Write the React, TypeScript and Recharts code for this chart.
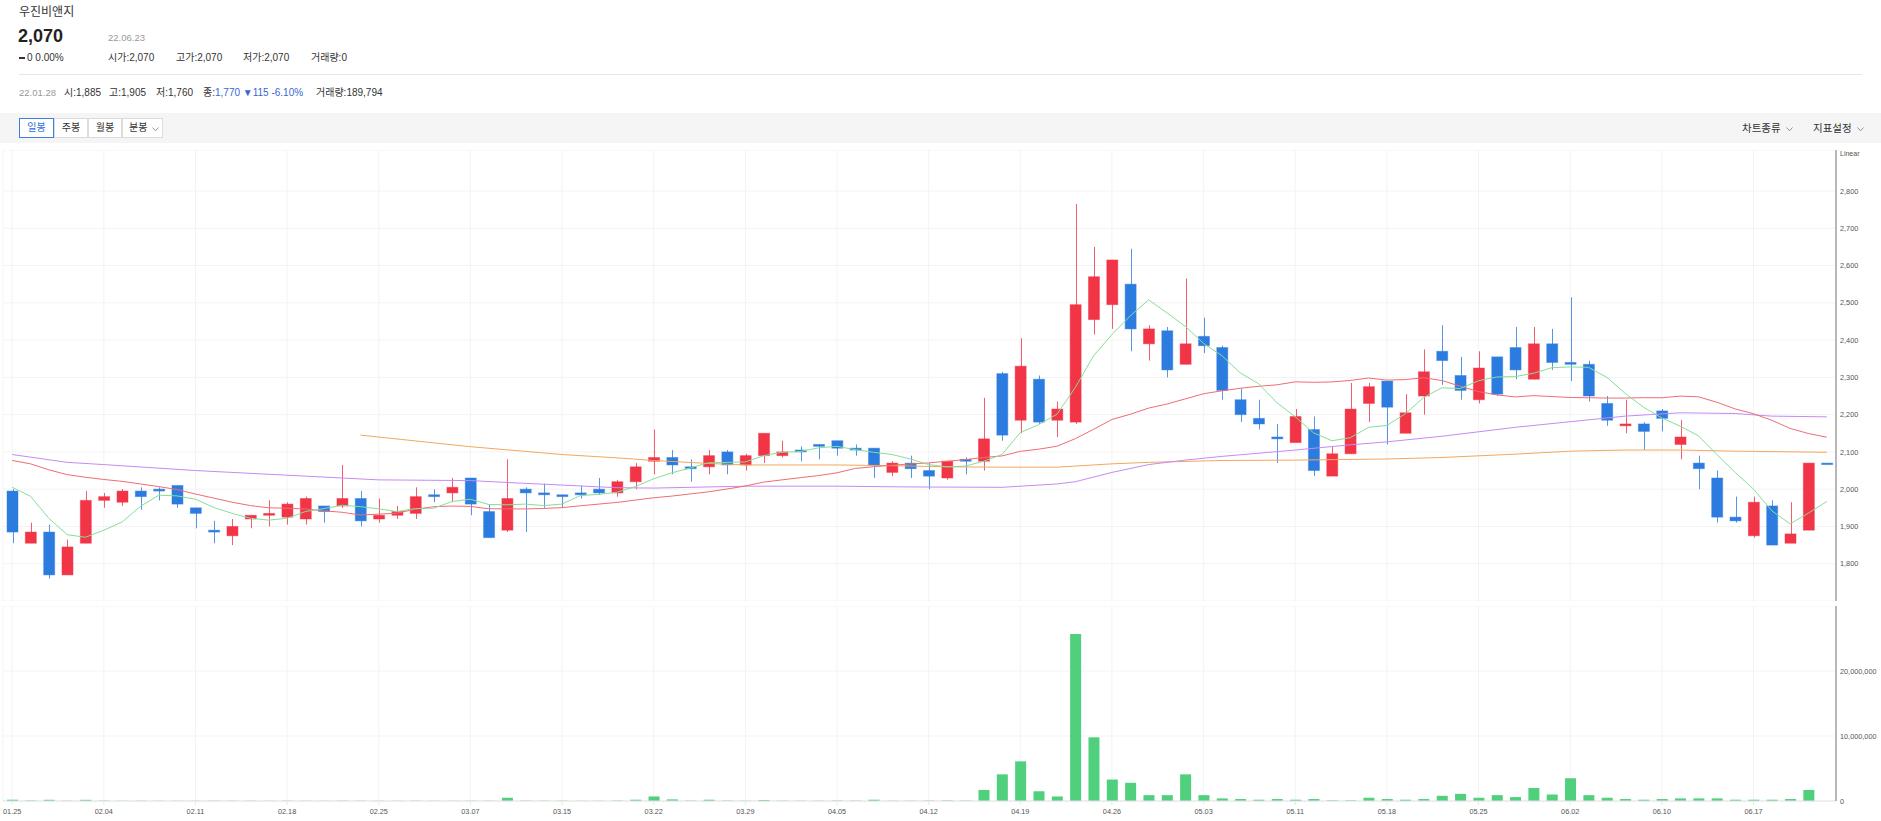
import { Bar, CartesianGrid, ComposedChart, Line, XAxis, YAxis } from "recharts";

// 일봉 — 우진비앤지, 22.01.25 ~ 22.06.23 (100 trading days)

const dates = [
  "01.25", "01.26", "01.27", "01.28", "02.03", "02.04", "02.07", "02.08", "02.09", "02.10",
  "02.11", "02.14", "02.15", "02.16", "02.17", "02.18", "02.21", "02.22", "02.23", "02.24",
  "02.25", "02.28", "03.02", "03.03", "03.04", "03.07", "03.08", "03.10", "03.11", "03.14",
  "03.15", "03.16", "03.17", "03.18", "03.21", "03.22", "03.23", "03.24", "03.25", "03.28",
  "03.29", "03.30", "03.31", "04.01", "04.04", "04.05", "04.06", "04.07", "04.08", "04.11",
  "04.12", "04.13", "04.14", "04.15", "04.18", "04.19", "04.20", "04.21", "04.22", "04.25",
  "04.26", "04.27", "04.28", "04.29", "05.02", "05.03", "05.04", "05.06", "05.09", "05.10",
  "05.11", "05.12", "05.13", "05.16", "05.17", "05.18", "05.19", "05.20", "05.23", "05.24",
  "05.25", "05.26", "05.27", "05.30", "05.31", "06.02", "06.03", "06.07", "06.08", "06.09",
  "06.10", "06.13", "06.14", "06.15", "06.16", "06.17", "06.20", "06.21", "06.22", "06.23",
];

const tickDates = [
  "01.25", "02.04", "02.11", "02.18", "02.25", "03.07", "03.15", "03.22", "03.29", "04.05",
  "04.12", "04.19", "04.26", "05.03", "05.11", "05.18", "05.25", "06.02", "06.10", "06.17",
];

const opens = [
  1995, 1855, 1885, 1770, 1855, 1970, 1965, 1995, 2000, 2010,
  1950, 1890, 1875, 1920, 1930, 1925, 1920, 1955, 1955, 1975,
  1920, 1930, 1935, 1985, 1990, 2030, 1940, 1890, 2000, 1990,
  1985, 1990, 2000, 1990, 2020, 2075, 2085, 2060, 2060, 2100,
  2065, 2090, 2090, 2105, 2120, 2130, 2110, 2110, 2045, 2070,
  2050, 2030, 2080, 2075, 2310, 2185, 2295, 2185, 2180, 2455,
  2495, 2550, 2390, 2425, 2335, 2410, 2380, 2240, 2190, 2140,
  2125, 2160, 2035, 2095, 2230, 2290, 2150, 2250, 2370, 2305,
  2240, 2355, 2380, 2295, 2390, 2340, 2335, 2230, 2170, 2175,
  2210, 2120, 2070, 2030, 1925, 1875, 1955, 1855, 1890, 2070,
];
const highs = [
  2000, 1910, 1905, 1865, 1995, 1990, 2000, 2005, 2005, 2010,
  1950, 1915, 1920, 1930, 1970, 1965, 1980, 1955, 2065, 1995,
  1975, 1955, 2005, 2000, 2030, 2030, 1960, 2080, 2005, 2015,
  1985, 2010, 2030, 2025, 2070, 2160, 2105, 2080, 2105, 2105,
  2095, 2150, 2130, 2115, 2120, 2130, 2120, 2110, 2075, 2090,
  2070, 2075, 2085, 2245, 2315, 2405, 2305, 2235, 2765, 2650,
  2615, 2645, 2440, 2435, 2565, 2460, 2385, 2270, 2240, 2175,
  2215, 2195, 2115, 2285, 2285, 2290, 2255, 2375, 2440, 2355,
  2370, 2355, 2435, 2435, 2430, 2515, 2345, 2250, 2240, 2180,
  2215, 2185, 2090, 2050, 1980, 1980, 1970, 1965, 2070, 2070,
];
const lows = [
  1855, 1855, 1760, 1770, 1855, 1950, 1955, 1945, 1970, 1950,
  1895, 1855, 1850, 1895, 1900, 1905, 1905, 1910, 1950, 1900,
  1910, 1920, 1920, 1965, 1965, 1930, 1870, 1885, 1885, 1950,
  1950, 1975, 1985, 1980, 2000, 2040, 2040, 2020, 2040, 2040,
  2050, 2070, 2085, 2075, 2080, 2090, 2090, 2030, 2035, 2030,
  2000, 2025, 2040, 2050, 2130, 2150, 2175, 2140, 2175, 2415,
  2430, 2370, 2345, 2300, 2335, 2365, 2240, 2180, 2160, 2070,
  2125, 2035, 2035, 2095, 2180, 2120, 2150, 2200, 2280, 2240,
  2230, 2250, 2295, 2295, 2320, 2290, 2235, 2170, 2150, 2105,
  2155, 2080, 2000, 1910, 1910, 1870, 1850, 1855, 1890, 2070,
];
const closes = [
  1885, 1885, 1770, 1845, 1970, 1980, 1995, 1980, 1995, 1960,
  1935, 1885, 1900, 1930, 1935, 1960, 1975, 1940, 1975, 1915,
  1930, 1940, 1980, 1980, 2005, 1960, 1870, 1975, 1990, 1985,
  1980, 1985, 1990, 2020, 2060, 2085, 2065, 2055, 2090, 2065,
  2090, 2150, 2100, 2100, 2115, 2110, 2105, 2065, 2070, 2055,
  2035, 2075, 2075, 2135, 2145, 2330, 2180, 2215, 2495, 2570,
  2615, 2430, 2430, 2320, 2390, 2385, 2265, 2200, 2175, 2135,
  2195, 2050, 2095, 2215, 2275, 2220, 2205, 2315, 2345, 2265,
  2325, 2255, 2320, 2390, 2340, 2335, 2250, 2185, 2175, 2155,
  2190, 2140, 2055, 1925, 1915, 1965, 1850, 1880, 2070, 2070,
];
const volumes = [
  200000, 60000, 190000, 40000, 180000, 50000, 30000, 40000, 30000, 30000,
  30000, 40000, 30000, 30000, 30000, 40000, 30000, 30000, 50000, 40000,
  30000, 30000, 40000, 30000, 30000, 40000, 40000, 500000, 50000, 40000,
  40000, 30000, 30000, 60000, 200000, 700000, 250000, 60000, 200000, 60000,
  40000, 150000, 50000, 40000, 40000, 60000, 50000, 200000, 40000, 40000,
  60000, 80000, 60000, 1700000, 4100000, 6100000, 1500000, 700000, 25700000, 9800000,
  3300000, 2800000, 900000, 900000, 4100000, 900000, 400000, 300000, 200000, 300000,
  200000, 300000, 100000, 100000, 500000, 300000, 200000, 300000, 800000, 1100000,
  500000, 900000, 600000, 2000000, 1000000, 3500000, 900000, 500000, 300000, 200000,
  300000, 400000, 400000, 400000, 200000, 200000, 200000, 300000, 1700000, 0,
];

// averages whose window reaches back before 01.25
const ma5Lead = [2005, 1981, 1922, 1878];
const ma20Lead = [
  2077, 2068, 2052, 2039, 2032, 2026, 2021, 2014, 2007, 1999,
  1987, 1976, 1965, 1956, 1950, 1949, 1947, 1942, 1938,
];
const ma60Days = [0, 3, 5, 10, 16, 20, 25, 27, 30, 33, 35, 40, 45, 49, 54, 57, 58, 60, 62, 64, 66, 70, 73, 75, 78, 80, 82, 85, 88, 91, 94, 96, 99];
const ma60Values = [2093, 2072, 2066, 2050, 2035, 2025, 2023, 2018, 2011, 2004, 2003, 2008, 2008, 2006, 2005, 2014, 2020, 2045, 2066, 2078, 2088, 2105, 2119, 2127, 2142, 2154, 2166, 2181, 2196, 2205, 2203, 2196, 2194];
const ma120Days = [19, 25, 30, 33, 35, 38, 40, 45, 48, 51, 54, 57, 60, 62, 66, 70, 75, 78, 82, 85, 88, 91, 94, 99];
const ma120Values = [2145, 2114, 2093, 2084, 2077, 2069, 2065, 2065, 2063, 2060, 2059, 2059, 2068, 2072, 2077, 2078, 2081, 2085, 2094, 2102, 2105, 2105, 2102, 2099];

const priceTicks = [1700, 1800, 1900, 2000, 2100, 2200, 2300, 2400, 2500, 2600, 2700, 2800];
const volumeTicks = [0, 10000000, 20000000];

const RED = "#f23447";
const BLUE = "#2c7ce0";
const FONT = "'Liberation Sans', 'Noto Sans CJK KR', sans-serif";

function average(i: number, n: number) {
  let sum = 0;
  for (let k = i - n + 1; k <= i; k++) sum += closes[k];
  return sum / n;
}

function pick(days: number[], values: number[], i: number) {
  const k = days.indexOf(i);
  return k >= 0 ? values[k] : null;
}

const rows = dates.map((date, i) => ({
  date,
  open: opens[i],
  high: highs[i],
  low: lows[i],
  close: closes[i],
  range: [lows[i], highs[i]],
  volume: volumes[i],
  ma5: i < 4 ? ma5Lead[i] : average(i, 5),
  ma20: i < 19 ? ma20Lead[i] : average(i, 20),
  ma60: pick(ma60Days, ma60Values, i),
  ma120: pick(ma120Days, ma120Values, i),
}));

function Candle(props: any) {
  const { x, y, width, height, payload } = props;
  if (x == null || payload == null) return null;
  const { open, close, high, low } = payload;
  const color = close > open ? RED : BLUE;
  const top = Math.min(y, y + height);
  const h = Math.abs(height);
  const toY = (v: number) => (high === low ? top : top + ((high - v) / (high - low)) * h);
  const bodyTop = toY(Math.max(open, close));
  const bodyBottom = toY(Math.min(open, close));
  const cx = Math.round(x + width / 2) + 0.5;
  return (
    <g>
      <line x1={cx} x2={cx} y1={top} y2={top + h} stroke={color} strokeOpacity={0.8} />
      <rect
        x={x}
        y={bodyTop}
        width={width}
        height={Math.max(bodyBottom - bodyTop, 1.5)}
        fill={color}
        stroke={color}
        strokeOpacity={0.45}
      />
    </g>
  );
}

function PriceTick(props: any) {
  const { y, payload } = props;
  return (
    <text x={1840} y={y} dy={2.6} fontSize={7.3} fill="#555">
      {Number(payload.value).toLocaleString("en-US")}
    </text>
  );
}

function VolumeTick(props: any) {
  const { y, payload } = props;
  return (
    <text x={1840} y={y} dy={2.6} fontSize={7.3} fill="#555">
      {Number(payload.value).toLocaleString("en-US")}
    </text>
  );
}

function DateTick(props: any) {
  const { x, payload } = props;
  return (
    <text x={x} y={208} textAnchor="middle" fontSize={7.3} fill="#555">
      {payload.value}
    </text>
  );
}

function Chevron({ left, top }: { left: number; top: number }) {
  return (
    <svg style={{ position: "absolute", left, top, zIndex: 3 }} width={7} height={5}>
      <polyline points="0.5,0.5 3.5,3.8 6.5,0.5" fill="none" stroke="#888" strokeWidth={0.9} />
    </svg>
  );
}

function Label({ left, top, size, color = "#333", weight = 400, children }: any) {
  return (
    <span
      style={{
        position: "absolute",
        left,
        top: top - size / 2,
        fontSize: size,
        lineHeight: `${size}px`,
        color,
        fontWeight: weight,
        whiteSpace: "nowrap",
      }}
    >
      {children}
    </span>
  );
}

const buttons = [
  { text: "일봉", left: 19, width: 35, active: true },
  { text: "주봉", left: 54, width: 34 },
  { text: "월봉", left: 88, width: 34 },
  { text: "분봉", left: 122, width: 41, menu: true },
];

export default function App() {
  return (
    <div style={{ position: "relative", width: 1881, height: 821, background: "#fff", fontFamily: FONT, overflow: "hidden" }}>
      <style>{"body{margin:0}"}</style>

      <Label left={19} top={12} size={12}>우진비앤지</Label>
      <Label left={18} top={36} size={18} color="#222" weight={700}>2,070</Label>
      <Label left={108} top={38} size={9.5} color="#999">22.06.23</Label>
      <span style={{ position: "absolute", left: 19, top: 57, width: 6, height: 2, background: "#333" }} />
      <Label left={27} top={58} size={10}>0 0.00%</Label>
      <Label left={108} top={58} size={10}>시가:2,070</Label>
      <Label left={176} top={58} size={10}>고가:2,070</Label>
      <Label left={243} top={58} size={10}>저가:2,070</Label>
      <Label left={311} top={58} size={10}>거래량:0</Label>
      <div style={{ position: "absolute", left: 19, top: 74, width: 1843, height: 1, background: "#e6e6e6" }} />

      <Label left={19} top={93} size={9.5} color="#999">22.01.28</Label>
      <Label left={64} top={93} size={10}>시:1,885</Label>
      <Label left={109} top={93} size={10}>고:1,905</Label>
      <Label left={156} top={93} size={10}>저:1,760</Label>
      <Label left={203} top={93} size={10}>
        종:<span style={{ color: "#3a66d0" }}>1,770 ▼115 -6.10%</span>
      </Label>
      <Label left={316} top={93} size={10}>거래량:189,794</Label>

      <div style={{ position: "absolute", left: 0, top: 113, width: 1881, height: 30, background: "#f5f5f5" }} />
      {buttons.map((b) => (
        <div
          key={b.text}
          style={{
            position: "absolute",
            left: b.left,
            top: 118,
            width: b.width,
            height: 20,
            boxSizing: "border-box",
            border: `1px solid ${b.active ? "#3d7fe0" : "#dcdcdc"}`,
            background: "#fff",
            color: b.active ? "#2f6fd8" : "#333",
            fontSize: 10,
            lineHeight: "18px",
            paddingLeft: b.menu ? 6 : 0,
            textAlign: b.menu ? "left" : "center",
            zIndex: b.active ? 2 : 1,
          }}
        >
          {b.text}
        </div>
      ))}
      <Chevron left={152} top={127} />
      <Label left={1742} top={128} size={10.5}>차트종류</Label>
      <Chevron left={1786} top={127} />
      <Label left={1813} top={128} size={10.5}>지표설정</Label>
      <Chevron left={1857} top={127} />

      <div style={{ position: "absolute", left: 0, top: 150 }}>
        <ComposedChart width={1881} height={451} data={rows} margin={{ top: 0, right: 0, bottom: 0, left: 3 }}>
          <CartesianGrid stroke="#f3f3f3" />
          <XAxis dataKey="date" ticks={tickDates} interval={0} hide />
          <YAxis
            orientation="right"
            width={45}
            domain={[1700, 2910]}
            ticks={priceTicks}
            tick={<PriceTick />}
            tickLine={false}
            axisLine={{ stroke: "#a8a8a8", strokeWidth: 1.6 }}
            allowDataOverflow
          />
          <Bar dataKey="range" barSize={11} shape={<Candle />} isAnimationActive={false} />
          <Line dataKey="ma120" stroke="#f4a75c" strokeWidth={1} dot={false} connectNulls isAnimationActive={false} />
          <Line dataKey="ma60" stroke="#c68af6" strokeWidth={1} dot={false} connectNulls isAnimationActive={false} />
          <Line dataKey="ma20" stroke="#ef6d72" strokeWidth={1} dot={false} isAnimationActive={false} />
          <Line dataKey="ma5" stroke="#86de98" strokeWidth={1} dot={false} isAnimationActive={false} />
        </ComposedChart>
      </div>
      <span style={{ position: "absolute", left: 1840, top: 150, fontSize: 7, color: "#555" }}>Linear</span>

      <div style={{ position: "absolute", left: 0, top: 606 }}>
        <ComposedChart width={1881} height={215} data={rows} margin={{ top: 0, right: 0, bottom: 0, left: 3 }}>
          <CartesianGrid stroke="#f3f3f3" />
          <XAxis
            dataKey="date"
            ticks={tickDates}
            interval={0}
            height={20}
            tick={<DateTick />}
            tickLine={{ stroke: "#e8e8e8" }}
            tickSize={4}
            axisLine={{ stroke: "#e3e3e3" }}
          />
          <YAxis
            orientation="right"
            width={45}
            domain={[0, 30000000]}
            ticks={volumeTicks}
            tick={<VolumeTick />}
            tickLine={false}
            axisLine={{ stroke: "#a8a8a8", strokeWidth: 1.6 }}
          />
          <Bar dataKey="volume" barSize={11} fill="#50cf7c" isAnimationActive={false} />
        </ComposedChart>
      </div>
    </div>
  );
}
